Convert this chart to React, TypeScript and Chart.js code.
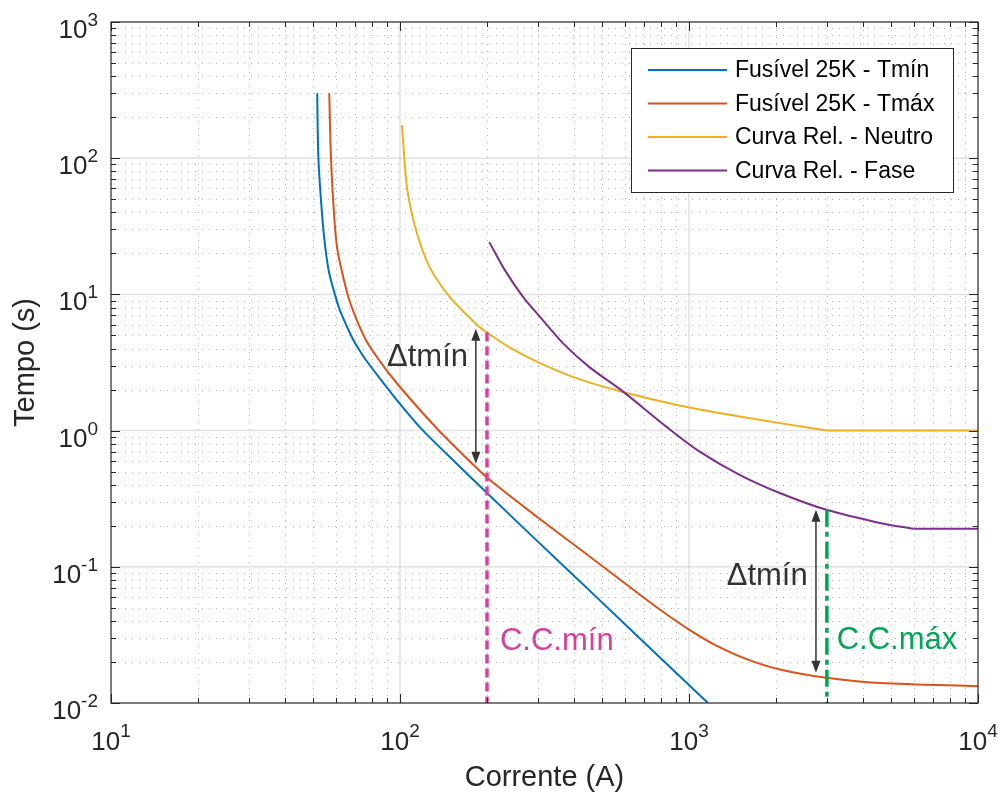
import React, { useEffect, useRef } from 'react';
import { Chart, registerables } from 'chart.js';
Chart.register(...registerables);

// ---- data (current in A, time in s) ----
const fuseMinCurrent = [51.7, 52.2, 53.7, 55.1, 56.9, 60.3, 62.5, 68.5, 72.3, 76.2, 86.6, 100, 118.6, 160, 200, 300, 500, 800, 1163];
const fuseMinTime = [300, 100, 39.5, 22.4, 14.3, 9.12, 7.28, 4.75, 3.91, 3.3, 2.31, 1.57, 1.03, 0.55, 0.348, 0.153, 0.0548, 0.0212, 0.01];

const fuseMaxCurrent = [56.9, 57.7, 59.1, 60.5, 63, 66.7, 71, 76.2, 80.4, 90, 100, 120, 137, 160, 200, 300, 453, 700, 833, 1000, 1214, 1583, 2065, 2989, 4571, 10000];
const fuseMaxTime = [300, 100, 39.4, 22.4, 14.6, 9.13, 6.43, 4.63, 3.86, 2.76, 2.09, 1.34, 0.99, 0.712, 0.452, 0.23, 0.119, 0.059, 0.045, 0.0346, 0.0271, 0.021, 0.0176, 0.0153, 0.014, 0.0133];

const relayNeutralCurrent = [101.6, 103.5, 106, 113.6, 126.3, 148.3, 183, 200, 240, 304, 400, 590, 927, 1496, 2989, 10000];
const relayNeutralTime = [175, 100, 58.5, 29.7, 16.0, 9.64, 6.09, 5.25, 4.07, 3.14, 2.46, 1.92, 1.53, 1.27, 1.0, 1.0];

const relayPhaseCurrent = [203.7, 230, 266, 304, 366, 450, 590, 834, 1089, 1496, 2060, 2989, 4571, 5970, 10000];
const relayPhaseTime = [24.2, 15.2, 9.64, 6.9, 4.39, 2.95, 1.94, 1.07, 0.7, 0.473, 0.348, 0.262, 0.21, 0.19, 0.19];

const seriesLabels = ['Fusível 25K - Tmín', 'Fusível 25K - Tmáx', 'Curva Rel. - Neutro', 'Curva Rel. - Fase'];
const seriesColors = ['#0072BD', '#D95319', '#EDB120', '#7E2F8E'];

const xTickExponents = [1, 2, 3, 4];
const yTickExponents = [-2, -1, 0, 1, 2, 3];

const ccMinCurrent = [200, 200];
const ccMinTime = [5.25, 0.01];
const ccMaxCurrent = [3000, 3000];
const ccMaxTime = [0.262, 0.01];

const arrowCurrents = [183, 2750];
const arrowTopTimes = [5.6, 0.262];
const arrowBottomTimes = [0.57, 0.0167];

const noteTexts = ['Δtmín', 'C.C.mín', 'Δtmín', 'C.C.máx'];
const noteCurrents = [171.9, 221.8, 2574, 3243];
const noteTimes = [2.99, 0.0246, 0.0738, 0.025];

const xTitle = 'Corrente (A)';
const yTitle = 'Tempo (s)';

const FONT = '"Liberation Sans", Arial, Helvetica, sans-serif';
const AXIS_COLOR = '#262626';
const MAGENTA = '#D6409F';
const GREEN = '#00A651';

function toPoints(xs: number[], ys: number[]) {
  return xs.map((v, i) => ({ x: v, y: ys[i] }));
}

// split a curve into its curved part and a trailing constant (definite-time) part
function splitFlat(xs: number[], ys: number[]) {
  const last = ys[ys.length - 1];
  let k = ys.length - 1;
  while (k > 0 && ys[k - 1] === last) k--;
  if (k >= ys.length - 1) return [toPoints(xs, ys), null];
  return [toPoints(xs.slice(0, k + 1), ys.slice(0, k + 1)), toPoints(xs.slice(k), ys.slice(k))];
}

function drawArrowHead(ctx: CanvasRenderingContext2D, x: number, y: number, dir: number) {
  const len = 12;
  const half = 4.5;
  ctx.beginPath();
  ctx.moveTo(x, y);
  ctx.lineTo(x - half, y + dir * len);
  ctx.lineTo(x + half, y + dir * len);
  ctx.closePath();
  ctx.fill();
}

const matlabPlugin = {
  id: 'matlabAxes',
  beforeDatasetsDraw(chart: any) {
    const { ctx, chartArea: a, scales } = chart;
    const xs = scales.x;
    const ys = scales.y;
    ctx.save();
    // minor dotted grid
    ctx.strokeStyle = 'rgba(0,0,0,0.3)';
    ctx.lineWidth = 1;
    ctx.setLineDash([1, 6]);
    for (let e = 1; e < 4; e++) {
      for (let m = 2; m <= 9; m++) {
        const px = Math.round(xs.getPixelForValue(m * Math.pow(10, e))) + 0.5;
        ctx.beginPath();
        ctx.moveTo(px, a.bottom);
        ctx.lineTo(px, a.top);
        ctx.stroke();
      }
    }
    for (let e = -2; e < 3; e++) {
      for (let m = 2; m <= 9; m++) {
        const py = Math.round(ys.getPixelForValue(m * Math.pow(10, e))) + 0.5;
        ctx.beginPath();
        ctx.moveTo(a.left, py);
        ctx.lineTo(a.right, py);
        ctx.stroke();
      }
    }
    // major grid
    ctx.setLineDash([]);
    ctx.strokeStyle = 'rgba(0,0,0,0.12)';
    ctx.lineWidth = 1.5;
    for (let e = 2; e < 4; e++) {
      const px = xs.getPixelForValue(Math.pow(10, e));
      ctx.beginPath();
      ctx.moveTo(px, a.bottom);
      ctx.lineTo(px, a.top);
      ctx.stroke();
    }
    for (let e = -1; e < 3; e++) {
      const py = ys.getPixelForValue(Math.pow(10, e));
      ctx.beginPath();
      ctx.moveTo(a.left, py);
      ctx.lineTo(a.right, py);
      ctx.stroke();
    }
    ctx.restore();
  },
  afterDatasetsDraw(chart: any) {
    const { ctx, chartArea: a, scales } = chart;
    const xs = scales.x;
    const ys = scales.y;
    ctx.save();

    // axes box
    ctx.strokeStyle = AXIS_COLOR;
    ctx.lineWidth = 1.2;
    ctx.strokeRect(a.left, a.top, a.right - a.left, a.bottom - a.top);

    // ticks (inward, all four sides)
    ctx.lineWidth = 1;
    const tick = (x1: number, y1: number, x2: number, y2: number) => {
      ctx.beginPath();
      ctx.moveTo(x1, y1);
      ctx.lineTo(x2, y2);
      ctx.stroke();
    };
    for (let e = 1; e <= 4; e++) {
      for (let m = 1; m <= 9; m++) {
        const v = m * Math.pow(10, e);
        if (v > 10000) break;
        const px = Math.round(xs.getPixelForValue(v)) + 0.5;
        const len = m === 1 ? 9 : 5;
        tick(px, a.bottom, px, a.bottom - len);
        tick(px, a.top, px, a.top + len);
      }
    }
    for (let e = -2; e <= 3; e++) {
      for (let m = 1; m <= 9; m++) {
        const v = m * Math.pow(10, e);
        if (v > 1000) break;
        const py = Math.round(ys.getPixelForValue(v)) + 0.5;
        const len = m === 1 ? 9 : 5;
        tick(a.left, py, a.left + len, py);
        tick(a.right, py, a.right - len, py);
      }
    }

    // tick labels
    ctx.fillStyle = AXIS_COLOR;
    ctx.textBaseline = 'alphabetic';
    ctx.textAlign = 'left';
    const baseFont = `26px ${FONT}`;
    const expFont = `19px ${FONT}`;
    const measure = (t: string, f: string) => {
      ctx.font = f;
      return ctx.measureText(t).width;
    };
    yTickExponents.forEach((e) => {
      const py = ys.getPixelForValue(Math.pow(10, e));
      const exp = String(e);
      const ew = measure(exp, expFont);
      const bw = measure('10', baseFont);
      const right = a.left - 13;
      ctx.font = baseFont;
      ctx.fillText('10', right - ew - bw, py + 16);
      ctx.font = expFont;
      ctx.fillText(exp, right - ew, py + 4);
    });
    xTickExponents.forEach((e) => {
      const px = xs.getPixelForValue(Math.pow(10, e));
      const exp = String(e);
      const ew = measure(exp, expFont);
      const bw = measure('10', baseFont);
      const start = px - (ew + bw) / 2;
      ctx.font = baseFont;
      ctx.fillText('10', start, a.bottom + 47);
      ctx.font = expFont;
      ctx.fillText(exp, start + bw, a.bottom + 34);
    });

    // axis titles
    ctx.font = `29px ${FONT}`;
    ctx.textAlign = 'center';
    ctx.fillText(xTitle, (a.left + a.right) / 2, a.bottom + 83);
    ctx.save();
    ctx.translate(34, (a.top + a.bottom) / 2);
    ctx.rotate(-Math.PI / 2);
    ctx.fillText(yTitle, 0, 0);
    ctx.restore();

    // double arrows
    ctx.strokeStyle = '#333333';
    ctx.fillStyle = '#333333';
    ctx.lineWidth = 1.5;
    arrowCurrents.forEach((c, i) => {
      const px = xs.getPixelForValue(c);
      const top = ys.getPixelForValue(arrowTopTimes[i]);
      const bot = ys.getPixelForValue(arrowBottomTimes[i]);
      ctx.beginPath();
      ctx.moveTo(px, top + 6);
      ctx.lineTo(px, bot - 6);
      ctx.stroke();
      drawArrowHead(ctx, px, top, 1);
      drawArrowHead(ctx, px, bot, -1);
    });

    // annotation texts
    ctx.font = `31px ${FONT}`;
    ctx.textBaseline = 'alphabetic';
    const noteColors = ['#333333', MAGENTA, '#333333', GREEN];
    const noteAlign = ['right', 'left', 'right', 'left'];
    noteTexts.forEach((t, i) => {
      ctx.fillStyle = noteColors[i];
      ctx.textAlign = noteAlign[i] as CanvasTextAlign;
      ctx.fillText(t, xs.getPixelForValue(noteCurrents[i]), ys.getPixelForValue(noteTimes[i]));
    });

    // legend
    const bx = a.right - 347;
    const by = a.top + 26;
    const bw = 322;
    const bh = 144;
    ctx.fillStyle = '#ffffff';
    ctx.fillRect(bx, by, bw, bh);
    ctx.strokeStyle = AXIS_COLOR;
    ctx.lineWidth = 1;
    ctx.strokeRect(bx + 0.5, by + 0.5, bw, bh);
    ctx.font = `23px ${FONT}`;
    ctx.textAlign = 'left';
    ctx.textBaseline = 'middle';
    seriesLabels.forEach((label, i) => {
      const ry = by + 22 + i * 33.5;
      ctx.strokeStyle = seriesColors[i];
      ctx.lineWidth = 2;
      ctx.beginPath();
      ctx.moveTo(bx + 17, ry);
      ctx.lineTo(bx + 96, ry);
      ctx.stroke();
      ctx.fillStyle = '#000000';
      ctx.fillText(label, bx + 104, ry + 1);
    });

    ctx.restore();
  },
};

export default function App() {
  const canvasRef = useRef<HTMLCanvasElement | null>(null);

  useEffect(() => {
    if (!canvasRef.current) return;
    const series = [
      [fuseMinCurrent, fuseMinTime],
      [fuseMaxCurrent, fuseMaxTime],
      [relayNeutralCurrent, relayNeutralTime],
      [relayPhaseCurrent, relayPhaseTime],
    ];
    const datasets: any[] = [];
    series.forEach(([xs, ys], i) => {
      const [curve, flat] = splitFlat(xs, ys);
      datasets.push({
        label: seriesLabels[i],
        data: curve,
        showLine: true,
        borderColor: seriesColors[i],
        backgroundColor: seriesColors[i],
        borderWidth: 2,
        pointRadius: 0,
        tension: 0.3,
        fill: false,
        order: 4 - i,
      });
      if (flat) {
        datasets.push({
          label: seriesLabels[i],
          data: flat,
          showLine: true,
          borderColor: seriesColors[i],
          borderWidth: 2,
          pointRadius: 0,
          tension: 0,
          fill: false,
          order: 4 - i,
        });
      }
    });
    datasets.push({
      label: 'C.C.mín',
      data: toPoints(ccMinCurrent, ccMinTime),
      showLine: true,
      borderColor: MAGENTA,
      borderWidth: 3.5,
      borderDash: [9, 5],
      pointRadius: 0,
      fill: false,
      order: 0,
    });
    datasets.push({
      label: 'C.C.máx',
      data: toPoints(ccMaxCurrent, ccMaxTime),
      showLine: true,
      borderColor: GREEN,
      borderWidth: 3.5,
      borderDash: [17, 5, 5, 5],
      pointRadius: 0,
      fill: false,
      order: 0,
    });

    const chart = new Chart(canvasRef.current, {
      type: 'scatter',
      data: { datasets },
      options: {
        responsive: false,
        animation: false,
        devicePixelRatio: 1,
        layout: { padding: { left: 111, right: 25, top: 22, bottom: 91 } },
        scales: {
          x: { type: 'logarithmic', min: 10, max: 10000, display: false },
          y: { type: 'logarithmic', min: 0.01, max: 1000, display: false },
        },
        plugins: { legend: { display: false }, tooltip: { enabled: false } },
      },
      plugins: [matlabPlugin],
    } as any);
    return () => chart.destroy();
  }, []);

  return (
    <div style={{ position: 'fixed', left: 0, top: 0, width: 1003, height: 794, background: '#ffffff' }}>
      <canvas ref={canvasRef} width={1003} height={794} style={{ display: 'block' }} />
    </div>
  );
}
